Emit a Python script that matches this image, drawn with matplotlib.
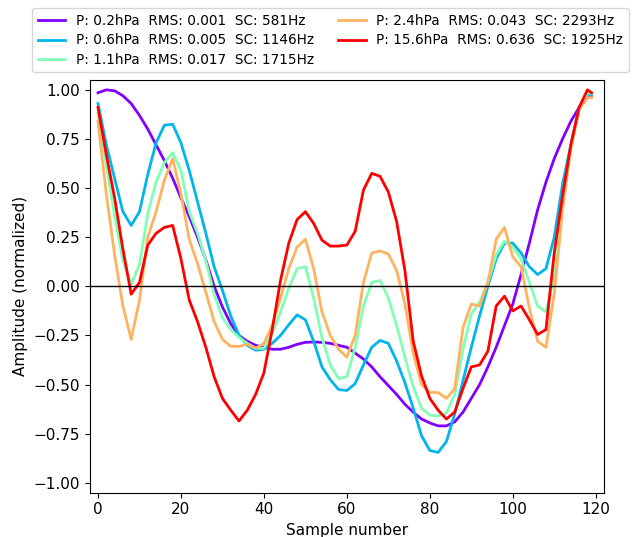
import numpy as np
import matplotlib
matplotlib.use("Agg")
import matplotlib.pyplot as plt

# sample positions (every 2nd sample, plus the last one)
samples = list(range(0, 119, 2)) + [119]

labels = [
    "P: 0.2hPa  RMS: 0.001  SC: 581Hz",
    "P: 0.6hPa  RMS: 0.005  SC: 1146Hz",
    "P: 1.1hPa  RMS: 0.017  SC: 1715Hz",
    "P: 2.4hPa  RMS: 0.043  SC: 2293Hz",
    "P: 15.6hPa  RMS: 0.636  SC: 1925Hz",
]

p02 = [0.985, 1.0, 0.995, 0.97, 0.93, 0.87, 0.80, 0.72, 0.64, 0.55,
       0.45, 0.355, 0.25, 0.135, 0.0, -0.105, -0.19, -0.25, -0.28, -0.30,
       -0.31, -0.32, -0.32, -0.31, -0.295, -0.285, -0.283, -0.285, -0.29, -0.30,
       -0.31, -0.34, -0.37, -0.41, -0.46, -0.505, -0.55, -0.60, -0.64, -0.675,
       -0.695, -0.71, -0.71, -0.69, -0.64, -0.57, -0.50, -0.41, -0.31, -0.20,
       -0.09, 0.06, 0.22, 0.39, 0.53, 0.65, 0.75, 0.84, 0.91, 0.96, 0.97]

p06 = [0.93, 0.72, 0.55, 0.38, 0.31, 0.38, 0.57, 0.73, 0.82, 0.825,
       0.73, 0.59, 0.43, 0.27, 0.10, -0.02, -0.15, -0.25, -0.30, -0.325,
       -0.32, -0.29, -0.25, -0.195, -0.145, -0.17, -0.28, -0.41, -0.475, -0.525,
       -0.53, -0.495, -0.40, -0.31, -0.275, -0.29, -0.38, -0.49, -0.62, -0.76,
       -0.835, -0.845, -0.79, -0.65, -0.48, -0.31, -0.15, 0.0, 0.14, 0.22,
       0.22, 0.17, 0.10, 0.06, 0.09, 0.25, 0.52, 0.72, 0.91, 0.98, 0.975]

p11 = [0.88, 0.62, 0.36, 0.13, 0.01, 0.11, 0.37, 0.53, 0.63, 0.68,
       0.59, 0.38, 0.27, 0.13, -0.04, -0.16, -0.22, -0.26, -0.29, -0.315,
       -0.315, -0.24, -0.13, -0.01, 0.09, 0.10, -0.06, -0.26, -0.40, -0.47,
       -0.46, -0.31, -0.10, 0.02, 0.03, -0.06, -0.20, -0.36, -0.51, -0.62,
       -0.655, -0.66, -0.645, -0.55, -0.32, -0.14, -0.08, 0.02, 0.16, 0.23,
       0.20, 0.14, 0.02, -0.10, -0.13, 0.05, 0.45, 0.70, 0.90, 0.985, 0.98]

p24 = [0.84, 0.47, 0.16, -0.10, -0.27, -0.07, 0.25, 0.38, 0.54, 0.65,
       0.47, 0.24, 0.115, -0.03, -0.18, -0.27, -0.305, -0.305, -0.295, -0.315,
       -0.29, -0.20, -0.06, 0.09, 0.20, 0.24, 0.09, -0.13, -0.25, -0.32,
       -0.36, -0.25, 0.02, 0.17, 0.18, 0.165, 0.08, -0.09, -0.34, -0.50,
       -0.54, -0.54, -0.57, -0.52, -0.21, -0.09, -0.10, 0.02, 0.24, 0.30,
       0.15, 0.10, -0.11, -0.28, -0.31, -0.04, 0.39, 0.70, 0.90, 0.96, 0.96]

p156 = [0.91, 0.67, 0.45, 0.19, -0.04, 0.02, 0.21, 0.27, 0.30, 0.31,
        0.14, -0.07, -0.18, -0.31, -0.46, -0.57, -0.63, -0.685, -0.63, -0.55,
        -0.44, -0.22, 0.03, 0.22, 0.34, 0.38, 0.32, 0.235, 0.205, 0.205,
        0.21, 0.28, 0.49, 0.575, 0.56, 0.48, 0.33, 0.08, -0.28, -0.455,
        -0.57, -0.63, -0.675, -0.64, -0.52, -0.41, -0.40, -0.33, -0.10, -0.05,
        -0.125, -0.10, -0.17, -0.245, -0.22, 0.17, 0.46, 0.72, 0.91, 1.0, 0.985]

series = [p02, p06, p11, p24, p156]
colors = plt.cm.rainbow(np.linspace(0, 1, len(series)))

fig = plt.figure(figsize=(6.34, 5.37), dpi=100)
ax = fig.add_axes([0.1415, 0.0825, 0.8112, 0.7685])

for vals, lab, col in zip(series, labels, colors):
    ax.plot(samples, vals, color=col, linewidth=2, label=lab)

ax.axhline(0, color="black", linewidth=1)
ax.set_xlim(-2, 122)
ax.set_ylim(-1.05, 1.05)
ax.set_xlabel("Sample number", fontsize=11)
ax.set_ylabel("Amplitude (normalized)", fontsize=11)
ax.tick_params(labelsize=11)

fig.legend(loc="upper left", bbox_to_anchor=(0.04, 0.997), ncol=2,
           fontsize=9.8, labelspacing=0.4, columnspacing=1.8)

fig.savefig("out.png", dpi=100)
